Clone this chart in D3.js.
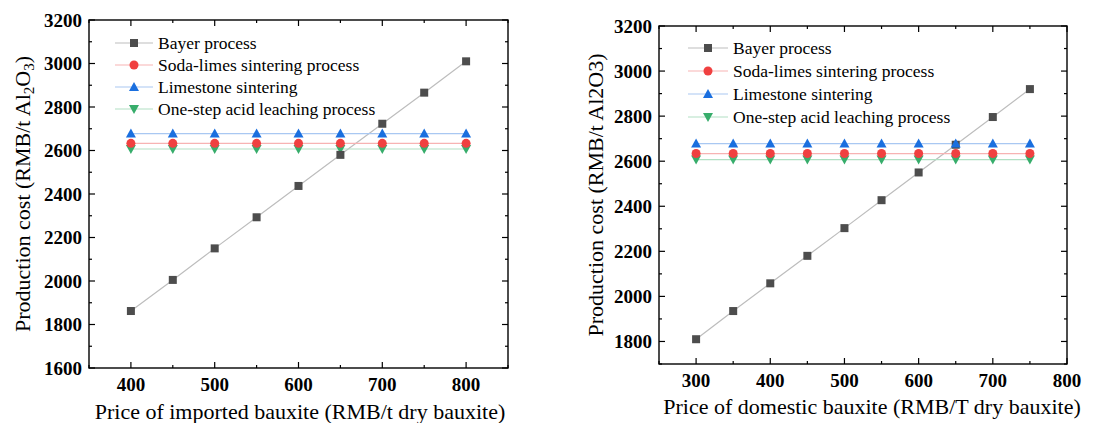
<!DOCTYPE html>
<html>
<head>
<meta charset="utf-8">
<script src="https://cdn.jsdelivr.net/npm/d3@7"></script>
<style>
body { margin: 0; background: #fff; }
</style>
</head>
<body>
<svg id="chart" width="1099" height="423" font-family="'Liberation Serif', 'DejaVu Serif', serif"></svg>
<script>
// left panel: imported bauxite
var importedPrice = [400, 450, 500, 550, 600, 650, 700, 750, 800];
var importedBayer = [1862, 2005, 2150, 2293, 2437, 2580, 2723, 2866, 3010];
var importedSoda = [2633, 2633, 2633, 2633, 2633, 2633, 2633, 2633, 2633];
var importedLime = [2678, 2678, 2678, 2678, 2678, 2678, 2678, 2678, 2678];
var importedAcid = [2607, 2607, 2607, 2607, 2607, 2607, 2607, 2607, 2607];

// right panel: domestic bauxite
var domesticPrice = [300, 350, 400, 450, 500, 550, 600, 650, 700, 750];
var domesticBayer = [1810, 1935, 2058, 2180, 2303, 2427, 2550, 2673, 2796, 2920];
var domesticSoda = [2634, 2634, 2634, 2634, 2634, 2634, 2634, 2634, 2634, 2634];
var domesticLime = [2678, 2678, 2678, 2678, 2678, 2678, 2678, 2678, 2678, 2678];
var domesticAcid = [2607, 2607, 2607, 2607, 2607, 2607, 2607, 2607, 2607, 2607];

var seriesNames = ["Bayer process", "Soda-limes sintering process", "Limestone sintering", "One-step acid leaching process"];
var leftXTicks = [400, 500, 600, 700, 800];
var leftYTicks = [1600, 1800, 2000, 2200, 2400, 2600, 2800, 3000, 3200];
var rightXTicks = [300, 400, 500, 600, 700, 800];
var rightYTicks = [1800, 2000, 2200, 2400, 2600, 2800, 3000, 3200];

var markerColor = ["#4d4d4d", "#f04040", "#1a6fdf", "#37ad6b"];
var lineColor = ["#bdbdbd", "#f7b3b3", "#a9c8f2", "#b1e0c4"];
var shapes = ["square", "circle", "up", "down"];

var svg = d3.select("#chart");

function marker(g, shape, x, y, color) {
	if (shape == "square") {
		g.append("rect").attr("x", x - 4).attr("y", y - 4).attr("width", 8).attr("height", 8).attr("fill", color);
	} else if (shape == "circle") {
		g.append("circle").attr("cx", x).attr("cy", y).attr("r", 4.5).attr("fill", color);
	} else if (shape == "up") {
		g.append("path").attr("d", "M" + x + "," + (y - 5) + "L" + (x + 5) + "," + (y + 4) + "L" + (x - 5) + "," + (y + 4) + "Z").attr("fill", color);
	} else {
		g.append("path").attr("d", "M" + x + "," + (y + 5) + "L" + (x + 5) + "," + (y - 4) + "L" + (x - 5) + "," + (y - 4) + "Z").attr("fill", color);
	}
}

function drawPanel(p) {
	var x = d3.scaleLinear().domain(p.xDomain).range([p.left, p.right]);
	var y = d3.scaleLinear().domain(p.yDomain).range([p.bottom, p.top]);
	var g = svg.append("g");

	// minor/major ticks, inward on all four sides
	var xMinor = d3.range(p.xDomain[0], p.xDomain[1] + 1, 50);
	var yMinor = d3.range(p.yDomain[0], p.yDomain[1] + 1, 100);
	xMinor.forEach(function(v) {
		var len = p.xTicks.indexOf(v) >= 0 ? 6 : 3;
		g.append("line").attr("x1", x(v)).attr("x2", x(v)).attr("y1", p.bottom).attr("y2", p.bottom - len).attr("stroke", "#000").attr("stroke-width", 1.2);
		g.append("line").attr("x1", x(v)).attr("x2", x(v)).attr("y1", p.top).attr("y2", p.top + len).attr("stroke", "#000").attr("stroke-width", 1.2);
	});
	yMinor.forEach(function(v) {
		var len = p.yTicks.indexOf(v) >= 0 ? 6 : 3;
		g.append("line").attr("y1", y(v)).attr("y2", y(v)).attr("x1", p.left).attr("x2", p.left + len).attr("stroke", "#000").attr("stroke-width", 1.2);
		g.append("line").attr("y1", y(v)).attr("y2", y(v)).attr("x1", p.right).attr("x2", p.right - len).attr("stroke", "#000").attr("stroke-width", 1.2);
	});

	g.append("rect").attr("x", p.left).attr("y", p.top).attr("width", p.right - p.left).attr("height", p.bottom - p.top)
		.attr("fill", "none").attr("stroke", "#000").attr("stroke-width", 1.4);

	g.selectAll("text.xt").data(p.xTicks).enter().append("text")
		.attr("x", function(d) { return x(d); }).attr("y", p.bottom + 23)
		.attr("text-anchor", "middle").attr("font-size", 19).attr("font-weight", "bold").text(function(d) { return d; });
	g.selectAll("text.yt").data(p.yTicks).enter().append("text")
		.attr("x", p.left - 7).attr("y", function(d) { return y(d) + 6.5; })
		.attr("text-anchor", "end").attr("font-size", 19).attr("font-weight", "bold").text(function(d) { return d; });

	g.append("text").attr("x", p.xTitleX).attr("y", p.xTitleY).attr("text-anchor", "middle")
		.attr("font-size", 22).text(p.xTitle);

	var yt = g.append("text").attr("transform", "translate(" + p.yTitleX + "," + ((p.top + p.bottom) / 2) + ") rotate(-90)")
		.attr("text-anchor", "middle").attr("font-size", 22);
	if (p.subscript) {
		yt.append("tspan").text("Production cost (RMB/t Al");
		yt.append("tspan").attr("font-size", 15).attr("dy", 4).text("2");
		yt.append("tspan").attr("dy", -4).text("O");
		yt.append("tspan").attr("font-size", 15).attr("dy", 4).text("3");
		yt.append("tspan").attr("dy", -4).text(")");
	} else {
		yt.text("Production cost (RMB/t Al2O3)");
	}

	var line = d3.line().x(function(d) { return x(d[0]); }).y(function(d) { return y(d[1]); });
	p.series.forEach(function(vals, i) {
		var pts = p.xs.map(function(v, j) { return [v, vals[j]]; });
		g.append("path").datum(pts).attr("d", line).attr("fill", "none").attr("stroke", lineColor[i]).attr("stroke-width", 1.2);
	});
	// draw acid first so upper markers overlap like in the picture
	[3, 0, 1, 2].forEach(function(i) {
		p.xs.forEach(function(v, j) { marker(g, shapes[i], x(v), y(p.series[i][j]), markerColor[i]); });
	});

	// legend
	seriesNames.forEach(function(name, i) {
		var ly = p.legY + i * p.legStep;
		g.append("line").attr("x1", p.legX).attr("x2", p.legX + p.legLen).attr("y1", ly).attr("y2", ly).attr("stroke", lineColor[i]).attr("stroke-width", 1.2);
		marker(g, shapes[i], p.legX + p.legLen / 2, ly, markerColor[i]);
		g.append("text").attr("x", p.legX + p.legLen + 5).attr("y", ly + 6).attr("font-size", 17.5).text(name);
	});
}

drawPanel({
	xs: importedPrice, series: [importedBayer, importedSoda, importedLime, importedAcid],
	xDomain: [350, 850], yDomain: [1600, 3200], xTicks: leftXTicks, yTicks: leftYTicks,
	left: 89, right: 508, top: 20, bottom: 368,
	xTitle: "Price of imported bauxite (RMB/t dry bauxite)", xTitleX: 300, xTitleY: 419, yTitleX: 30, subscript: true,
	legX: 115, legLen: 38, legY: 43, legStep: 22
});

drawPanel({
	xs: domesticPrice, series: [domesticBayer, domesticSoda, domesticLime, domesticAcid],
	xDomain: [250, 800], yDomain: [1700, 3200], xTicks: rightXTicks, yTicks: rightYTicks,
	left: 659, right: 1067, top: 26, bottom: 364,
	xTitle: "Price of domestic bauxite (RMB/T dry bauxite)", xTitleX: 872, xTitleY: 414, yTitleX: 603, subscript: false,
	legX: 688, legLen: 40, legY: 48, legStep: 23
});
</script>
</body>
</html>
